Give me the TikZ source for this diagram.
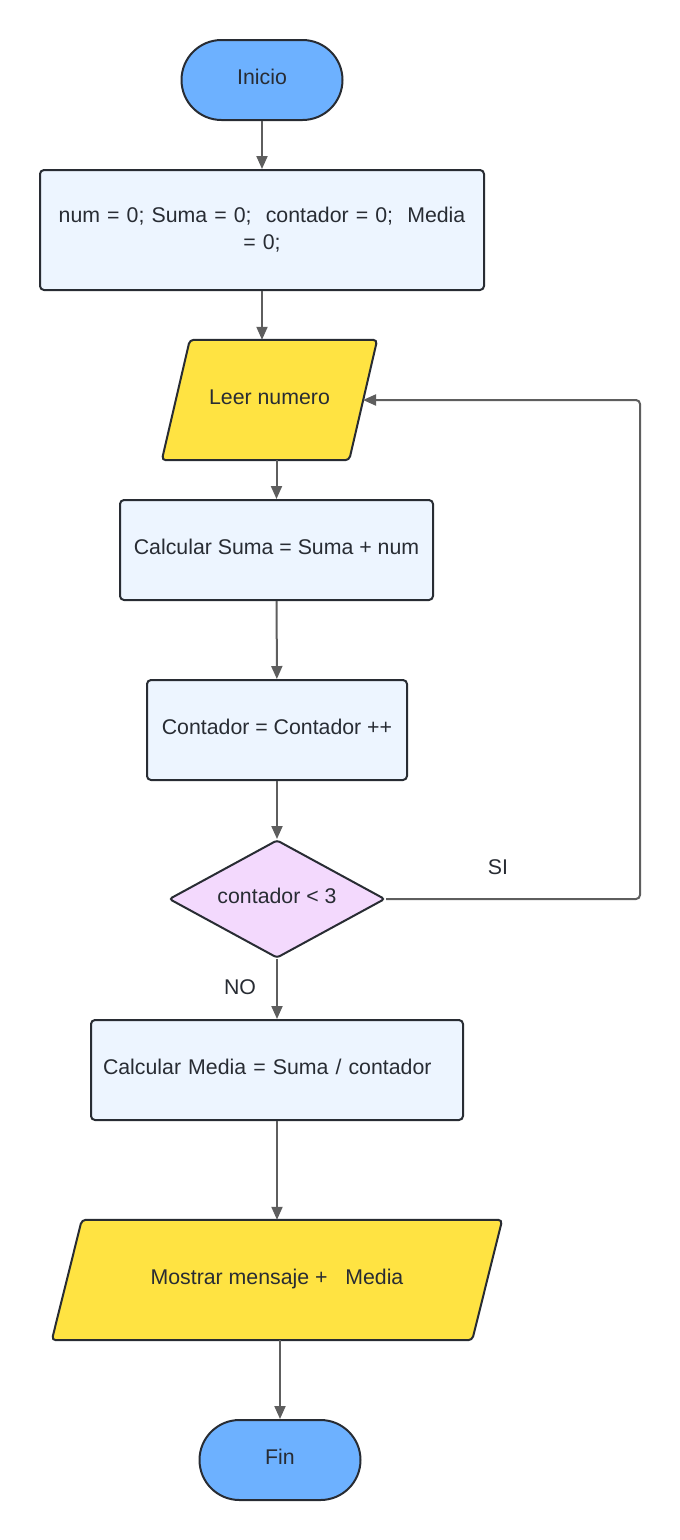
\documentclass[tikz,border=0pt]{standalone}
\usepackage{fontspec}
\setmainfont{Liberation Sans}
\usetikzlibrary{arrows.meta,shapes.geometric,backgrounds}
\definecolor{termfill}{HTML}{6DB1FF}
\definecolor{procfill}{HTML}{EDF5FF}
\definecolor{iofill}{HTML}{FFE342}
\definecolor{decfill}{HTML}{F3D9FD}
\definecolor{edgec}{HTML}{282C33}
\definecolor{conn}{HTML}{5E5E5E}
\begin{document}
\begin{tikzpicture}[x=1pt,y=-1pt,
 every node/.style={font=\fontsize{21.3}{27}\selectfont, text=edgec},
 fixt/.style={text height=15pt, text depth=6pt},
 term/.style={fixt, draw=edgec, line width=2pt, fill=termfill, rounded corners=40pt, minimum width=161pt, minimum height=80pt, inner sep=0},
 proc/.style={fixt, draw=edgec, line width=2pt, fill=procfill, rounded corners=4pt, inner sep=0},
 iobox/.style={fixt, inner sep=0},
 iopath/.style={draw=edgec, line width=2pt, fill=iofill, rounded corners=4pt},
 dec/.style={fixt, diamond, aspect=1.83, draw=edgec, line width=2pt, fill=decfill, rounded corners=3pt, inner sep=0, minimum width=216pt, minimum height=118pt},
 arr/.style={draw=conn, line width=2pt, -{Triangle[length=13pt,width=11pt]}},
 lbl/.style={inner sep=0}]
\useasboundingbox (0,0) rectangle (680,1540);
\node[term] (inicio) at (262,80) {Inicio};
\node[proc, minimum width=444pt, minimum height=120pt, text width=430pt, align=center, text height=, text depth=] (init) at (262,230) {num = 0; Suma = 0;\ \ contador = 0;\ \ Media\\= 0;};
\node[iobox, minimum width=215pt, minimum height=120pt] (leer) at (269.5,400) {Leer numero};
\node[proc, minimum width=313pt, minimum height=100pt] (suma) at (276.5,550) {Calcular Suma = Suma + num};
\node[proc, minimum width=260pt, minimum height=100pt] (cont) at (277,730) {Contador = Contador ++};
\node[dec] (cond) at (277,899) {contador < 3};
\node[proc, minimum width=372pt, minimum height=100pt, text width=348pt, align=left] (media) at (277,1070) {Calcular Media = Suma / contador};
\node[iobox, minimum width=450pt, minimum height=120pt] (mostrar) at (277,1280) {Mostrar mensaje +\ \ \ Media};
\node[term] (fin) at (280,1460) {Fin};
\node[lbl] (si) at (498,867) {SI};
\node[lbl] (no) at (240,987) {NO};
\begin{scope}[on background layer]
\draw[iopath] ([xshift=28pt]leer.north west) -- (leer.north east) -- ([xshift=-28pt]leer.south east) -- (leer.south west) -- cycle;
\draw[iopath] ([xshift=30pt]mostrar.north west) -- (mostrar.north east) -- ([xshift=-30pt]mostrar.south east) -- (mostrar.south west) -- cycle;
\end{scope}
\coordinate (loopin) at (363,400);
\coordinate (loopc) at (640,400);
\draw[arr] (inicio) -- (init);
\draw[arr] (init.south) -- (init.south |- leer.north);
\draw[arr] (suma.north |- leer.south) -- (suma.north);
\draw[arr] (suma) -- (cont);
\draw[arr] (cont) -- (cond);
\draw[arr] (cond) -- (media);
\draw[arr] (media) -- (mostrar);
\draw[arr] (mostrar.south -| fin.north) -- (fin.north);
\draw[arr, rounded corners=4pt] (cond.east) -| (loopc) -- (loopin);
\end{tikzpicture}
\end{document}
